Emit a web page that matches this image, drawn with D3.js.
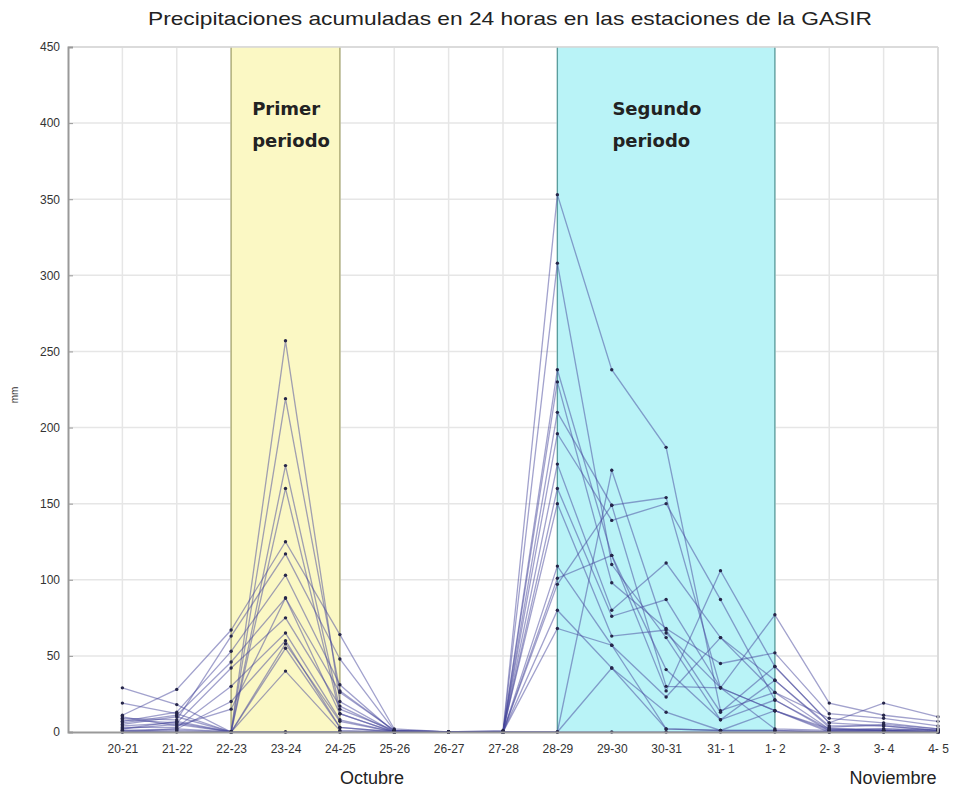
<!DOCTYPE html>
<html>
<head>
<meta charset="utf-8">
<script src="https://cdn.jsdelivr.net/npm/d3@7"></script>
<style>
  body { margin: 0; background: #fff; }
  text { font-family: "Liberation Sans", Arial, sans-serif; }
</style>
</head>
<body>
<div id="container"></div>
<script>
// Periodos de 24 h (20-21 oct ... 4-5 nov)
const days = ["20-21", "21-22", "22-23", "23-24", "24-25", "25-26", "26-27", "27-28",
  "28-29", "29-30", "30-31", "31- 1", "1- 2", "2- 3", "3- 4", "4- 5"];
const yTicks = [0, 50, 100, 150, 200, 250, 300, 350, 400, 450];

// Precipitación (mm) por estación
const s01 = [2, 5, 0, 257, 20, 0, 0, 0, 353, 238, 187, 14, 26, 9, 6, 2];
const s02 = [5, 10, 0, 219, 27, 1, 0, 0, 308, 110, 62, 8, 34, 4, 4, 1];
const s03 = [29, 18, 0, 175, 15, 1, 0, 0, 238, 116, 27, 106, 43, 6, 19, 10];
const s04 = [19, 12, 0, 160, 12, 0, 0, 0, 230, 98, 68, 45, 52, 12, 9, 4];
const s05 = [11, 28, 67, 125, 64, 2, 0, 0, 210, 149, 154, 29, 77, 19, 11, 7];
const s06 = [9, 8, 63, 117, 48, 1, 0, 0, 196, 139, 150, 87, 21, 2, 2, 1];
const s07 = [7, 13, 53, 103, 31, 0, 0, 0, 176, 80, 111, 62, 34, 3, 5, 2];
const s08 = [6, 11, 46, 88, 26, 1, 0, 0, 160, 76, 87, 29, 14, 1, 2, 1];
const s09 = [4, 6, 42, 75, 17, 0, 0, 1, 150, 63, 67, 13, 43, 6, 4, 1];
const s10 = [3, 3, 30, 65, 8, 0, 0, 0, 109, 57, 23, 62, 26, 2, 1, 0];
const s11 = [1, 2, 20, 60, 3, 0, 0, 0, 101, 116, 41, 8, 21, 1, 1, 0];
const s12 = [0, 1, 0, 58, 7, 0, 0, 0, 97, 149, 30, 29, 14, 0, 1, 0];
const s13 = [2, 7, 0, 55, 3, 0, 0, 0, 80, 42, 13, 1, 1, 0, 0, 0];
const s14 = [8, 6, 0, 40, 1, 0, 0, 0, 68, 57, 2, 1, 14, 2, 1, 0];
const s15 = [1, 0, 0, 0, 0, 0, 0, 0, 0, 172, 65, 29, 2, 1, 1, 0];
const s16 = [0, 2, 0, 0, 0, 0, 0, 0, 0, 42, 2, 1, 1, 0, 0, 0];
const s17 = [10, 4, 15, 88, 12, 0, 0, 0, 0, 0, 0, 0, 0, 0, 0, 0];
const stations = [s01, s02, s03, s04, s05, s06, s07, s08, s09, s10, s11, s12, s13, s14, s15, s16, s17];

// Periodos sombreados
const periods = [
  { from: "22-23", to: "24-25", fill: "#fbf8c4", edge: "#a8a770", label: ["Primer", "periodo"], dx: 21 },
  { from: "28-29", to: "1- 2", fill: "#b9f3f7", edge: "#5a9e9e", label: ["Segundo", "periodo"], dx: 55 }
];

const W = 955, H = 789;
const margin = { top: 47, right: 17, bottom: 57, left: 68 };
const width = W - margin.left - margin.right;
const height = H - margin.top - margin.bottom;

const svg = d3.select("#container").append("svg")
  .attr("width", W).attr("height", H);
const g = svg.append("g")
  .attr("transform", `translate(${margin.left},${margin.top})`);

const x = d3.scaleLinear().domain([0, days.length]).range([0, width]);
const xDay = d => x(days.indexOf(d) + 1);
const y = d3.scaleLinear().domain([0, 450]).range([height, 0]);

// Rejilla
g.append("g").selectAll("line").data(yTicks.slice(1)).join("line")
  .attr("x1", 0).attr("x2", width)
  .attr("y1", d => y(d)).attr("y2", d => y(d))
  .attr("stroke", "#e6e6e6").attr("stroke-width", 1.5);
g.append("g").selectAll("line").data(days).join("line")
  .attr("x1", d => xDay(d)).attr("x2", d => xDay(d))
  .attr("y1", 0).attr("y2", height)
  .attr("stroke", "#e6e6e6").attr("stroke-width", 1.5);

// Fondos de periodos (tapan la rejilla)
periods.forEach(p => {
  g.append("rect")
    .attr("x", xDay(p.from)).attr("y", 0)
    .attr("width", xDay(p.to) - xDay(p.from)).attr("height", height)
    .attr("fill", p.fill);
  [p.from, p.to].forEach(d => {
    g.append("line")
      .attr("x1", xDay(d)).attr("x2", xDay(d))
      .attr("y1", 0).attr("y2", height)
      .attr("stroke", p.edge).attr("stroke-width", 1.3);
  });
});

// Líneas por estación
const line = d3.line().x((d, i) => x(i + 1)).y(d => y(d));
g.append("g").selectAll("path").data(stations).join("path")
  .attr("d", line)
  .attr("fill", "none")
  .attr("stroke", "#45459c")
  .attr("stroke-opacity", 0.5)
  .attr("stroke-width", 1.3);

// Marcadores
stations.forEach(s => {
  g.append("g").selectAll("circle").data(s).join("circle")
    .attr("cx", (d, i) => x(i + 1))
    .attr("cy", d => y(d))
    .attr("r", 1.7)
    .attr("fill", "#26264a");
});

// Marco
g.append("line").attr("x1", 0).attr("x2", width).attr("y1", 0).attr("y2", 0)
  .attr("stroke", "#d6d6d6").attr("stroke-width", 1.5);
g.append("line").attr("x1", width).attr("x2", width).attr("y1", 0).attr("y2", height)
  .attr("stroke", "#d6d6d6").attr("stroke-width", 1.5);

// Ejes
const yAxis = g.append("g")
  .call(d3.axisLeft(y).tickValues(yTicks).tickSize(-5).tickPadding(8));
yAxis.select(".domain").attr("stroke", "#999").attr("stroke-width", 2);
yAxis.selectAll(".tick line").attr("stroke", "#999").attr("x2", 5);
yAxis.selectAll(".tick text").attr("fill", "#333").style("font-size", "12px");

const xAxis = g.append("g").attr("transform", `translate(0,${height})`)
  .call(d3.axisBottom(x).tickValues(d3.range(1, days.length + 1))
    .tickFormat(i => days[i - 1]).tickSize(0).tickPadding(12));
xAxis.select(".domain").attr("stroke", "#999").attr("stroke-width", 2);
xAxis.selectAll(".tick text").attr("fill", "#333").style("font-size", "12px");

// Textos de periodos
periods.forEach(p => {
  const t = g.append("text")
    .attr("y", 68)
    .style("font-family", "'DejaVu Sans', sans-serif")
    .style("font-size", "18px").style("font-weight", "bold").attr("fill", "#222");
  p.label.forEach((l, i) => {
    t.append("tspan").attr("x", xDay(p.from) + p.dx)
      .attr("dy", i === 0 ? 0 : 32).text(l);
  });
});

// Título y etiquetas
svg.append("text")
  .attr("x", 148).attr("y", 25)
  .attr("textLength", 724).attr("lengthAdjust", "spacingAndGlyphs")
  .style("font-size", "19px").attr("fill", "#222")
  .text("Precipitaciones acumuladas en 24 horas en las estaciones de la GASIR");
svg.append("text")
  .attr("transform", "translate(18,395) rotate(-90)")
  .attr("text-anchor", "middle").style("font-size", "10px").attr("fill", "#333")
  .text("mm");
svg.append("text")
  .attr("x", 372).attr("y", 784).attr("text-anchor", "middle")
  .style("font-size", "18px").attr("fill", "#222").text("Octubre");
svg.append("text")
  .attr("x", 893).attr("y", 784).attr("text-anchor", "middle")
  .style("font-size", "18px").attr("fill", "#222").text("Noviembre");
</script>
</body>
</html>
